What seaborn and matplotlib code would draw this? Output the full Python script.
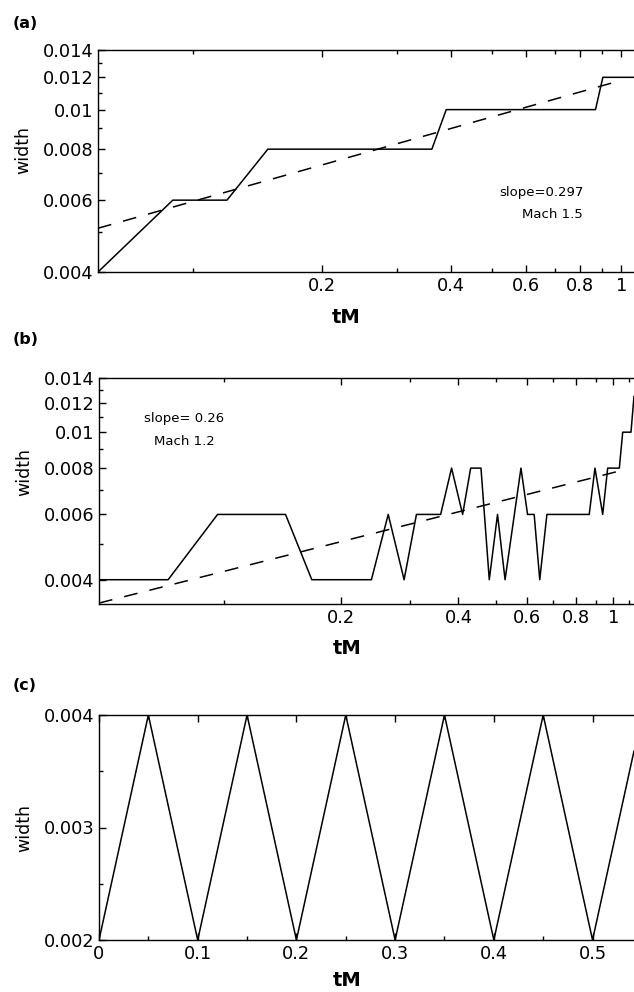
import numpy as np
import pandas as pd
import seaborn as sns
import matplotlib
matplotlib.use('Agg')
import matplotlib.pyplot as plt
from matplotlib.ticker import FixedLocator, FuncFormatter, NullFormatter

# panel (a): Mach 1.5, log-log
a_tm = [0.060, 0.0897, 0.120, 0.1495, 0.361, 0.390, 0.870, 0.905, 1.07]
a_width = [0.004, 0.006, 0.006, 0.008, 0.008, 0.010, 0.010, 0.012, 0.012]
a_fit_tm = [0.060, 1.0]
a_fit_width = [0.00512, 0.0118]

# panel (b): Mach 1.2, log-log
b_tm = [0.0477, 0.0718, 0.0962, 0.1438, 0.168, 0.239, 0.264, 0.290, 0.312,
        0.360, 0.384, 0.410, 0.430, 0.457, 0.480, 0.504, 0.527, 0.579,
        0.602, 0.626, 0.647, 0.675, 0.867, 0.897, 0.939, 0.967, 1.036,
        1.057, 1.11, 1.13]
b_width = [0.004, 0.004, 0.006, 0.006, 0.004, 0.004, 0.006, 0.004, 0.006,
           0.006, 0.008, 0.006, 0.008, 0.008, 0.004, 0.006, 0.004, 0.008,
           0.006, 0.006, 0.004, 0.006, 0.006, 0.008, 0.006, 0.008, 0.008,
           0.010, 0.010, 0.0125]
b_fit_tm = [0.0477, 1.053]
b_fit_width = [0.00346, 0.00789]

# panel (c): linear
c_tm = [0.0, 0.05, 0.1, 0.15, 0.2, 0.25, 0.3, 0.35, 0.4, 0.45, 0.5, 0.542]
c_width = [0.002, 0.004, 0.002, 0.004, 0.002, 0.004, 0.002, 0.004, 0.002,
           0.004, 0.002, 0.00368]

sns.set_theme(style='ticks')
plt.rcParams['font.family'] = ['DejaVu Sans']
plt.rcParams['text.color'] = 'black'
plt.rcParams['axes.labelcolor'] = 'black'

fig = plt.figure(figsize=(6.34, 9.92), dpi=100)
W, H = 634.0, 992.0


def make_axes(left, top, bottom):
    return fig.add_axes([left / W, 1 - bottom / H, 1 - left / W, (bottom - top) / H])


fmt = FuncFormatter(lambda v, p: '%g' % v)


def style(ax, xmaj, xmin, ymaj, ymin, xlab_y, ylab_y):
    ax.xaxis.set_major_locator(FixedLocator(xmaj))
    ax.xaxis.set_minor_locator(FixedLocator(xmin))
    ax.yaxis.set_major_locator(FixedLocator(ymaj))
    ax.yaxis.set_minor_locator(FixedLocator(ymin))
    ax.xaxis.set_major_formatter(fmt)
    ax.yaxis.set_major_formatter(fmt)
    ax.xaxis.set_minor_formatter(NullFormatter())
    ax.yaxis.set_minor_formatter(NullFormatter())
    ax.tick_params(which='both', direction='in', top=True, bottom=True,
                   left=True, right=False, colors='black', labelsize=12.8)
    ax.tick_params(which='major', length=5, width=1)
    ax.tick_params(which='minor', length=3, width=1)
    for s in ['left', 'top', 'bottom']:
        ax.spines[s].set_color('black')
        ax.spines[s].set_linewidth(1.0)
    ax.spines['right'].set_visible(False)
    ax.set_xlabel('tM', fontsize=14, fontweight='bold', color='black')
    ax.set_ylabel('width', fontsize=12.5, color='black')
    ax.xaxis.label.set_va('center')
    ax.yaxis.label.set_va('center')
    ax.xaxis.set_label_coords(0.463, xlab_y)
    ax.yaxis.set_label_coords(-0.14, ylab_y)
    ax.set_facecolor('white')


dash = (0, (9, 8))

# (a)
ax1 = make_axes(98, 50, 272)
sns.lineplot(x=a_tm, y=a_width, ax=ax1, color='black', lw=1.1,
             sort=False, estimator=None)
sns.lineplot(x=a_fit_tm, y=a_fit_width, ax=ax1, color='black', lw=1.1,
             linestyle=dash, sort=False, estimator=None)
ax1.set_xscale('log')
ax1.set_yscale('log')
ax1.set_xlim(0.060, 1.07)
ax1.set_ylim(0.004, 0.014)
style(ax1, [0.2, 0.4, 0.6, 0.8, 1.0], [0.1, 0.3, 0.5, 0.7, 0.9],
      [0.004, 0.006, 0.008, 0.01, 0.012, 0.014],
      [0.005, 0.007, 0.009, 0.011, 0.013], -0.207, 0.55)
ax1.text(0.828, 0.356, 'slope=0.297', transform=ax1.transAxes,
         ha='center', va='center', fontsize=9.5)
ax1.text(0.847, 0.257, 'Mach 1.5', transform=ax1.transAxes,
         ha='center', va='center', fontsize=9.5)

# (b)
ax2 = make_axes(99, 378, 604)
sns.lineplot(x=b_tm, y=b_width, ax=ax2, color='black', lw=1.1,
             sort=False, estimator=None)
sns.lineplot(x=b_fit_tm, y=b_fit_width, ax=ax2, color='black', lw=1.1,
             linestyle=dash, sort=False, estimator=None)
ax2.set_xscale('log')
ax2.set_yscale('log')
ax2.set_xlim(0.0477, 1.13)
ax2.set_ylim(0.00344, 0.014)
style(ax2, [0.2, 0.4, 0.6, 0.8, 1.0], [0.1, 0.3, 0.5, 0.7, 0.9, 1.1],
      [0.004, 0.006, 0.008, 0.01, 0.012, 0.014],
      [0.005, 0.007, 0.009, 0.011, 0.013], -0.195, 0.584)
ax2.text(0.159, 0.819, 'slope= 0.26', transform=ax2.transAxes,
         ha='center', va='center', fontsize=9.5)
ax2.text(0.159, 0.717, 'Mach 1.2', transform=ax2.transAxes,
         ha='center', va='center', fontsize=9.5)

# (c)
ax3 = make_axes(99, 715, 940)
sns.lineplot(x=c_tm, y=c_width, ax=ax3, color='black', lw=1.1,
             sort=False, estimator=None)
ax3.set_xlim(0, 0.542)
ax3.set_ylim(0.002, 0.004)
style(ax3, [0, 0.1, 0.2, 0.3, 0.4, 0.5],
      [0.05, 0.15, 0.25, 0.35, 0.45],
      [0.002, 0.003, 0.004], [0.0025, 0.0035], -0.178, 0.5)

for lab, ypix in [('(a)', 23), ('(b)', 340), ('(c)', 685)]:
    fig.text(13 / W, 1 - ypix / H, lab, ha='left', va='center',
             fontsize=11.5, fontweight='bold', color='black')

fig.savefig('out.png', dpi=100, facecolor='white')
